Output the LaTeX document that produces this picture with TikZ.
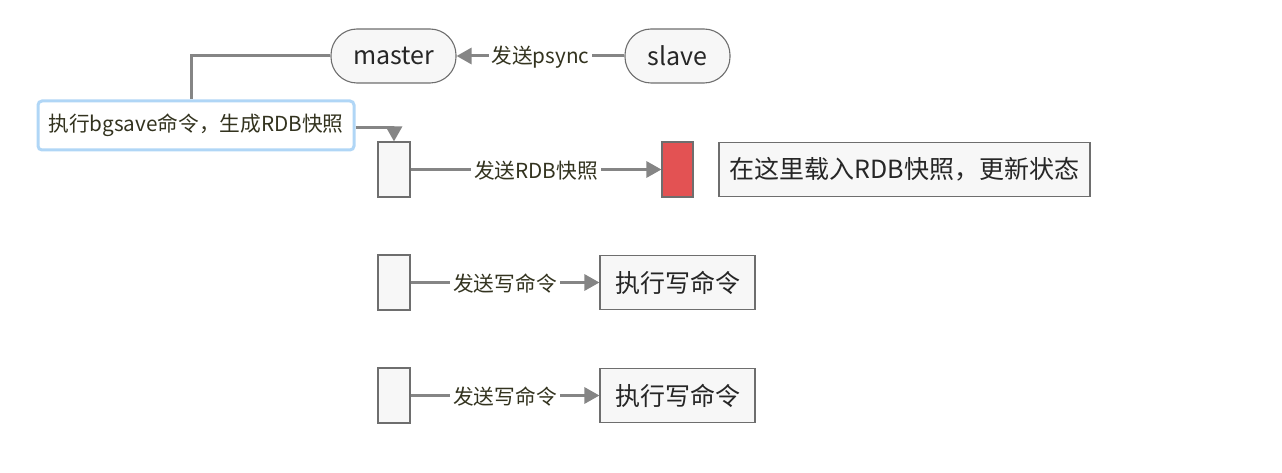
\documentclass[tikz,border=0pt]{standalone}
\usepackage{fontspec}
\setmainfont{Noto Sans CJK SC}
\usetikzlibrary{arrows.meta}
\definecolor{linegray}{HTML}{858585}
\definecolor{boxfill}{HTML}{F7F7F7}
\definecolor{boxdraw}{HTML}{6E6E6E}
\definecolor{lbl}{HTML}{33331F}
\definecolor{bluebd}{HTML}{B0D6F6}
\definecolor{redfill}{HTML}{E35253}
\begin{document}
\begin{tikzpicture}[x=1pt,y=-1pt,
  pill/.style={draw=boxdraw,line width=1.1pt,fill=boxfill,rounded corners=26pt,minimum width=125pt,minimum height=54pt,inner sep=0pt,font=\fontsize{25}{30}\selectfont,text=black!85},
  bar/.style={draw=boxdraw,line width=1.1pt,fill=boxfill,minimum width=32pt,minimum height=55pt,inner sep=0pt},
  cbox/.style={draw=boxdraw,line width=1.1pt,fill=boxfill,minimum height=54pt,inner sep=0pt,font=\fontsize{25}{30}\selectfont,text=black!85},
  conn/.style={draw=linegray,line width=3pt},
  arr/.style={conn,-{Triangle[length=15pt,width=16pt]}},
  lab/.style={fill=white,inner sep=3pt,font=\fontsize{20.7}{24}\selectfont,text=lbl,yshift=-1pt}]
\path[use as bounding box] (0,0) rectangle (1282,473);
\node[pill] (m) at (393.5,56) {master};
\node[pill,minimum width=105pt] (s) at (677.5,56) {slave};
\node[draw=bluebd,line width=3pt,fill=white,rounded corners=4pt,minimum width=316pt,minimum height=49pt,inner sep=0pt,font=\fontsize{20.7}{24}\selectfont,text=lbl] (bg) at (196,125.5) {执行bgsave命令，生成RDB快照};
\node[bar] (b1) at (394,169.5) {};
\node[bar,fill=redfill,minimum width=31pt] (r) at (677.5,169.5) {};
\node[cbox,minimum width=371pt] (load) at (904.5,169.5) {在这里载入RDB快照，更新状态};
\node[bar] (b2) at (394,282.5) {};
\node[cbox,minimum width=155pt] (w1) at (677.5,282.5) {执行写命令};
\node[bar] (b3) at (394,395.5) {};
\node[cbox,minimum width=155pt] (w2) at (677.5,395.5) {执行写命令};
\draw[arr] (s.west) -- node[lab] (l0) {发送psync} (m.east);
\draw[conn] (m.west) -| ([xshift=-5pt]bg.north);
\coordinate (bge) at ([yshift=-2.5pt]bg.east);
\draw[arr] (bge) -| (b1.north);
\draw[arr] (b1.east) -- node[lab] (l1) {发送RDB快照} (r.west);
\draw[arr] (b2.east) -- node[lab] (l2) {发送写命令} (w1.west);
\draw[arr] (b3.east) -- node[lab] (l3) {发送写命令} (w2.west);
\end{tikzpicture}
\end{document}
